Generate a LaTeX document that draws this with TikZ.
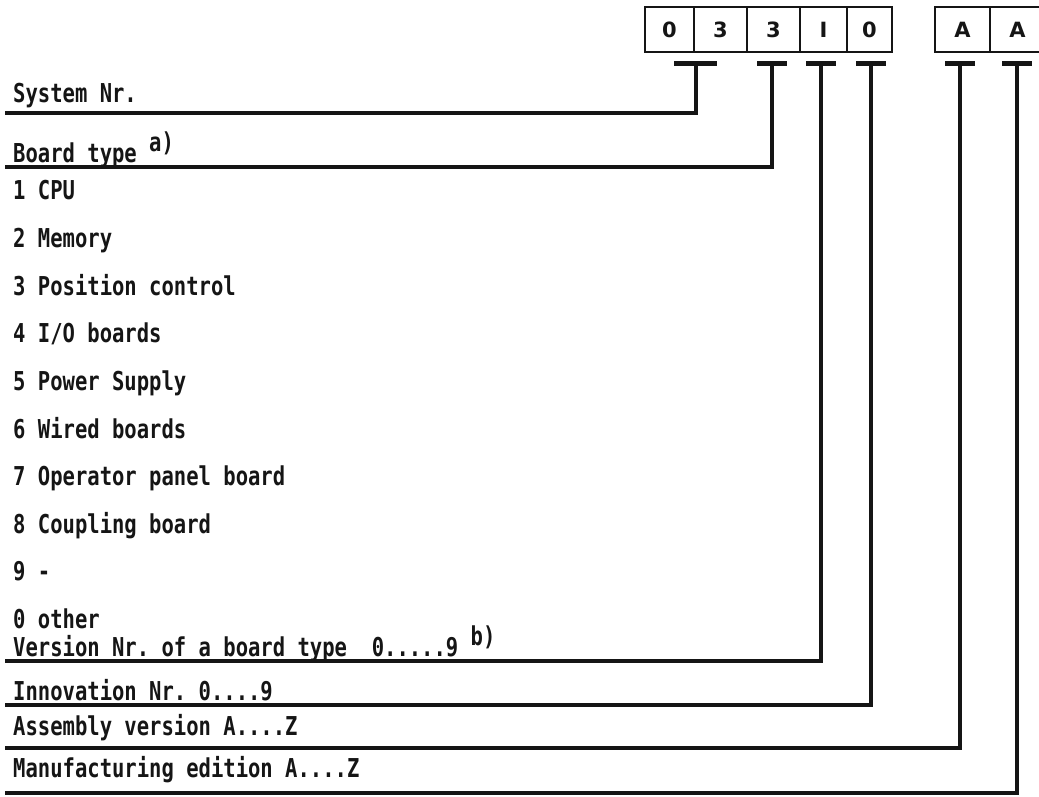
\documentclass[tikz,border=0pt]{standalone}
\usepackage{fontspec}
\usetikzlibrary{calc}
\newfontfamily\codefont[FakeStretch=0.79]{DejaVu Sans Mono}
\newfontfamily\digitfont{DejaVu Sans}
\definecolor{ScanInk}{HTML}{151515}
\frenchspacing

\begin{document}
\begin{tikzpicture}[
    x=1pt,y=-1pt,
    cell/.style={draw=ScanInk,line width=2.8pt,minimum height=45pt,inner sep=0pt,text=ScanInk,font=\digitfont\fontsize{21}{24}\selectfont\bfseries},
    entry/.style={anchor=base west,inner sep=0pt,text=ScanInk,font=\codefont\fontsize{26}{30}\selectfont\bfseries},
    tbar/.style={draw=ScanInk,line width=5pt},
    lead/.style={draw=ScanInk,line width=3.1pt,line join=miter}
  ]
    \clip (0,0) rectangle (1039,797);

    % code boxes
    \node[cell,minimum width=49pt] (sysA) at (669.5,29.5) {0};
    \node[cell,minimum width=53pt] (sysB) at (720.5,29.5) {3};
    \node[cell,minimum width=53pt] (type) at (773.5,29.5) {3};
    \node[cell,minimum width=47pt] (vers) at (823.5,29.5) {I};
    \node[cell,minimum width=45pt] (innov) at (869.5,29.5) {0};
    \node[cell,minimum width=55pt] (assy) at (962.5,29.5) {A};
    \node[cell,minimum width=55pt] (manuf) at (1017.5,29.5) {A};

    % T pieces under the boxes
    \coordinate (tSys) at (696,64);
    \coordinate (tType) at (772,64);
    \coordinate (tVers) at (821,64);
    \coordinate (tInnov) at (871,64);
    \coordinate (tAssy) at (960,64);
    \coordinate (tManuf) at (1017,64);
    \draw[tbar] ($(tSys)+(-22,0)$) -- ($(tSys)+(21,0)$);
    \foreach \t in {tType,tVers,tInnov,tAssy,tManuf}
      \draw[tbar] ($(\t)+(-15,0)$) -- ($(\t)+(15,0)$);

    % texts
    \node[entry] (sysnr) at (13,103) {System Nr.};
    \node[entry] (boardtype) at (13,163) {Board type \raisebox{11pt}{a)}};
    \node[entry] (cpu) at (13,200) {1 CPU};
    \node[entry] (memory) at (13,247.6) {2 Memory};
    \node[entry] (position) at (13,295.2) {3 Position control};
    \node[entry] (io) at (13,342.8) {4 I/O boards};
    \node[entry] (power) at (13,390.4) {5 Power Supply};
    \node[entry] (wired) at (13,438) {6 Wired boards};
    \node[entry] (operator) at (13,485.6) {7 Operator panel board};
    \node[entry] (coupling) at (13,533.2) {8 Coupling board};
    \node[entry] (nine) at (13,580.8) {9 -};
    \node[entry] (other) at (13,628.4) {0 other};
    \node[entry] (version) at (13,656) {Version Nr. of a board type\ \ 0.....9 \raisebox{11pt}{b)}};
    \node[entry] (innovation) at (13,700) {Innovation Nr. 0....9};
    \node[entry] (assembly) at (13,735) {Assembly version A....Z};
    \node[entry] (manufacturing) at (13,777) {Manufacturing edition A....Z};

    % leader lines
    \coordinate (sysEnd) at (5,113);
    \coordinate (typeEnd) at (5,167);
    \coordinate (versEnd) at (5,661);
    \coordinate (innovEnd) at (5,705);
    \coordinate (assyEnd) at (5,748);
    \coordinate (manufEnd) at (5,793);
    \draw[lead] (tSys) -- (tSys |- sysEnd) -- (sysEnd);
    \draw[lead] (tType) -- (tType |- typeEnd) -- (typeEnd);
    \draw[lead] (tVers) -- (tVers |- versEnd) -- (versEnd);
    \draw[lead] (tInnov) -- (tInnov |- innovEnd) -- (innovEnd);
    \draw[lead] (tAssy) -- (tAssy |- assyEnd) -- (assyEnd);
    \draw[lead] (tManuf) -- (tManuf |- manufEnd) -- (manufEnd);
  \end{tikzpicture}
\end{document}
